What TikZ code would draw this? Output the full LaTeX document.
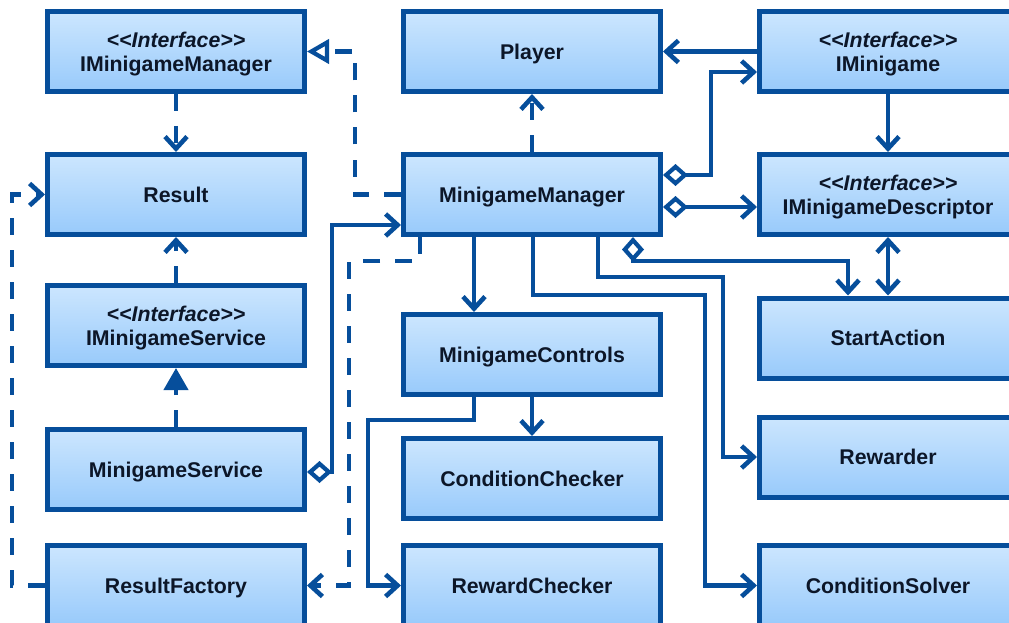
\documentclass[tikz,border=0pt]{standalone}
\usepackage{fontspec}
\setmainfont{Liberation Sans}
\usetikzlibrary{arrows.meta}

\definecolor{bord}{RGB}{6,78,155}
\definecolor{ink}{RGB}{12,22,40}
\definecolor{filltop}{RGB}{204,230,254}
\definecolor{fillbot}{RGB}{152,202,251}

\tikzset{
  cls/.style={rectangle, draw=bord, line width=5pt,
    top color=filltop, bottom color=fillbot,
    minimum width=257pt, minimum height=80pt, inner sep=0pt,
    text=ink, align=center, text depth=0pt,
    font=\bfseries\fontsize{21.3}{24}\selectfont},
  link/.style={draw=bord, line width=4.2pt, line join=miter},
  dep/.style={link, dash pattern=on 17pt off 15pt},
  stick/.tip={Straight Barb[length=12pt,width=22pt,line width=4.6pt]},
  hollowtri/.tip={Triangle[length=22pt,width=24pt,fill=white]},
  solidtri/.tip={Triangle[length=22pt,width=24pt]},
  agg/.tip={Diamond[length=25pt,width=22pt,fill=white]},
  >=stick
}

\newcommand{\iface}[1]{{\itshape <\kern0pt<Interface>\kern0pt>}\\#1}

\begin{document}
\begin{tikzpicture}[x=1pt,y=-1pt]
  \useasboundingbox (0,0) rectangle (1009,623);

  % left column
  \node[cls] (imm) at (176,51.5)  {\iface{IMinigameManager}};
  \node[cls] (res) at (176,194.5) {Result};
  \node[cls] (ims) at (176,325.5) {\iface{IMinigameService}};
  \node[cls] (msv) at (176,469.5) {MinigameService};
  \node[cls] (rf)  at (176,585.5) {ResultFactory};

  % middle column
  \node[cls] (pl) at (532,51.5)  {Player};
  \node[cls] (mm) at (532,194.5) {MinigameManager};
  \node[cls] (mc) at (532,354.5) {MinigameControls};
  \node[cls] (cc) at (532,478.5) {ConditionChecker};
  \node[cls] (rc) at (532,585.5) {RewardChecker};

  % right column
  \node[cls] (img) at (888,51.5)  {\iface{IMinigame}};
  \node[cls] (imd) at (888,194.5) {\iface{IMinigameDescriptor}};
  \node[cls] (sa)  at (888,338)   {StartAction};
  \node[cls] (rw)  at (888,457)   {Rewarder};
  \node[cls] (cs)  at (888,585.5) {ConditionSolver};

  % dependencies and realizations (dashed)
  \draw[dep,->] (imm.south) -- (res.north);
  \draw[dep,-hollowtri] (mm.west) -- (355,194.5) |- (imm.east);
  \draw[dep,->] (ims.north) -- (res.south);
  \draw[dep,-solidtri] (msv.north) -- (ims.south);
  \draw[dep,->] (rf.west) -- (12,585.5) |- (res.west);
  \draw[dep,->] ([xshift=-112pt]mm.south) -- (420,261) -- (349,261) |- (rf.east);
  \draw[dep,->] (mm.north) -- (pl.south);

  % associations (solid)
  \draw[link,agg->] ([yshift=-2.5pt]msv.east) -- (332,472) |- ([yshift=-30.5pt]mm.west);
  \draw[link,->] (img.west) -- (pl.east);
  \draw[link,agg->] ([yshift=19.5pt]mm.east) -- (711,175) |- ([yshift=-20.5pt]img.west);
  \draw[link,agg->] ([yshift=-12.5pt]mm.east) -- ([yshift=-12.5pt]imd.west);
  \draw[link,agg->] ([xshift=101pt]mm.south) -- (633,261) -| ([xshift=-40pt]sa.north);
  \draw[link,->] (img.south) -- (imd.north);
  \draw[link,<->] (imd.south) -- (sa.north);
  \draw[link,->] ([xshift=-58pt]mm.south) -- ([xshift=-58pt]mc.north);
  \draw[link,->] ([xshift=66pt]mm.south) -- (598,277) -- (723,277) |- (rw.west);
  \draw[link,->] ([xshift=1pt]mm.south) -- (533,295) -- (705,295) |- (cs.west);
  \draw[link,->] (mc.south) -- (cc.north);
  \draw[link,->] ([xshift=-58pt]mc.south) -- (474,420) -- (368,420) |- (rc.west);
\end{tikzpicture}
\end{document}
